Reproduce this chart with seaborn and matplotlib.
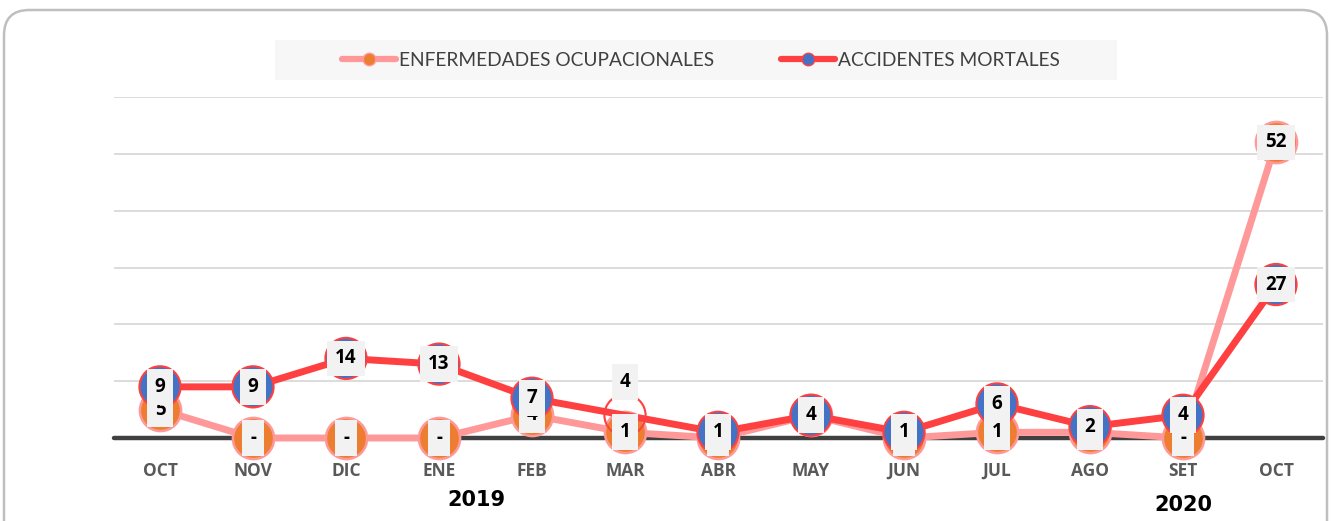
import matplotlib
matplotlib.use('Agg')
import matplotlib.pyplot as plt
from matplotlib.lines import Line2D
from matplotlib.patches import Rectangle, FancyBboxPatch
import seaborn as sns
import pandas as pd

# data
months = ['OCT', 'NOV', 'DIC', 'ENE', 'FEB', 'MAR', 'ABR', 'MAY', 'JUN', 'JUL', 'AGO', 'SET', 'OCT']
enfermedades = [5, 0, 0, 0, 4, 1, 0, 4, 0, 1, 1, 0, 52]
accidentes = [9, 9, 14, 13, 7, 4, 1, 4, 1, 6, 2, 4, 27]
years = ['2019', '2020']
year_pos = [3.4, 11]

sns.set_style('white')
plt.rcParams['font.family'] = ['Lato', 'DejaVu Sans']

fig = plt.figure(figsize=(13.31, 5.21), dpi=100)

# rounded border around the chart
border = FancyBboxPatch((4 / 1331, -0.1), 1323 / 1331, 1.1 - 10 / 521,
                        boxstyle='round,pad=0,rounding_size=0.019', mutation_aspect=2.55,
                        transform=fig.transFigure, fc='none', ec='#BFBFBF', lw=1.8, zorder=-1)
fig.patches.append(border)

ax = fig.add_axes([113.5 / 1331, 83 / 521, 1209 / 1331, 341 / 521])
ax.set_facecolor('none')

df = pd.DataFrame({'x': range(len(months)), 'enf': enfermedades, 'acc': accidentes})

pink, red = '#FF9999', '#FF4040'
orange, blue = '#ED7D31', '#4472C4'

for y in [10, 20, 30, 40, 50, 60]:
    ax.axhline(y, color='#D9D9D9', lw=1.3, zorder=0)
ax.axhline(0, color='#404040', lw=3.2, zorder=1, clip_on=False)

sns.lineplot(data=df, x='x', y='enf', color=pink, lw=5, ax=ax, zorder=2, legend=False,
             clip_on=False)
ax.scatter(df['x'], df['enf'], s=880, facecolor=orange, edgecolor=pink, lw=1.8,
           zorder=3, clip_on=False)
sns.lineplot(data=df, x='x', y='acc', color=red, lw=5, ax=ax, zorder=4, legend=False,
             clip_on=False)
acc_face = [blue] * len(months)
acc_face[5] = 'none'
ax.scatter(df['x'], df['acc'], s=880, facecolor=acc_face, edgecolor=red, lw=1.5,
           zorder=5, clip_on=False)

lab_font = dict(fontsize=13.5, fontweight='bold', family='Open Sans', color='black')
box = dict(boxstyle='square,pad=0.42', fc='#F2F2F2', ec='none')
for i, v in enumerate(enfermedades):
    ax.annotate('-' if v == 0 else str(v), (i, v), xytext=(0, 0), textcoords='offset points',
                ha='center', va='center', bbox=box, zorder=6, annotation_clip=False, **lab_font)
for i, v in enumerate(accidentes):
    dy = 24 if i == 5 else 0
    ax.annotate(str(v), (i, v), xytext=(0, dy), textcoords='offset points',
                ha='center', va='center', bbox=box, zorder=7, annotation_clip=False, **lab_font)

ax.set_xlim(-0.5, len(months) - 0.5)
ax.set_ylim(0, 60)
ax.set_xticks(range(len(months)))
ax.set_xticklabels(months, fontsize=12.5, fontweight='bold', family='Open Sans', color='#595959')
ax.tick_params(axis='x', length=0, pad=17)
ax.set_yticks([])
ax.set_xlabel('')
ax.set_ylabel('')
for s in ax.spines.values():
    s.set_visible(False)

for label, xp, yy in zip(years, year_pos, [-45, -48.5]):
    ax.annotate(label, (xp, 0), xytext=(0, yy), textcoords='offset points',
                ha='center', va='center', fontsize=15, fontweight='bold',
                family='DejaVu Sans', color='black', annotation_clip=False)

# legend with grey background
fig.patches.append(Rectangle((275 / 1331, 441 / 521), 842 / 1331, 40 / 521,
                             transform=fig.transFigure, fc='#F7F7F7', ec='none', zorder=-1))
handles = [
    Line2D([], [], color=pink, lw=4.5, marker='o', markersize=9,
           markerfacecolor=orange, markeredgecolor=pink),
    Line2D([], [], color=red, lw=4.5, marker='o', markersize=9,
           markerfacecolor=blue, markeredgecolor=red),
]
fig.legend(handles, ['ENFERMEDADES OCUPACIONALES', 'ACCIDENTES MORTALES'],
           loc='center', bbox_to_anchor=(701 / 1331, 1 - 60 / 521), ncol=2,
           frameon=False, handlelength=2.8, handletextpad=0.15, columnspacing=3.5,
           prop={'size': 13.8}, labelcolor='#404040')

fig.savefig('out.png', dpi=100)
